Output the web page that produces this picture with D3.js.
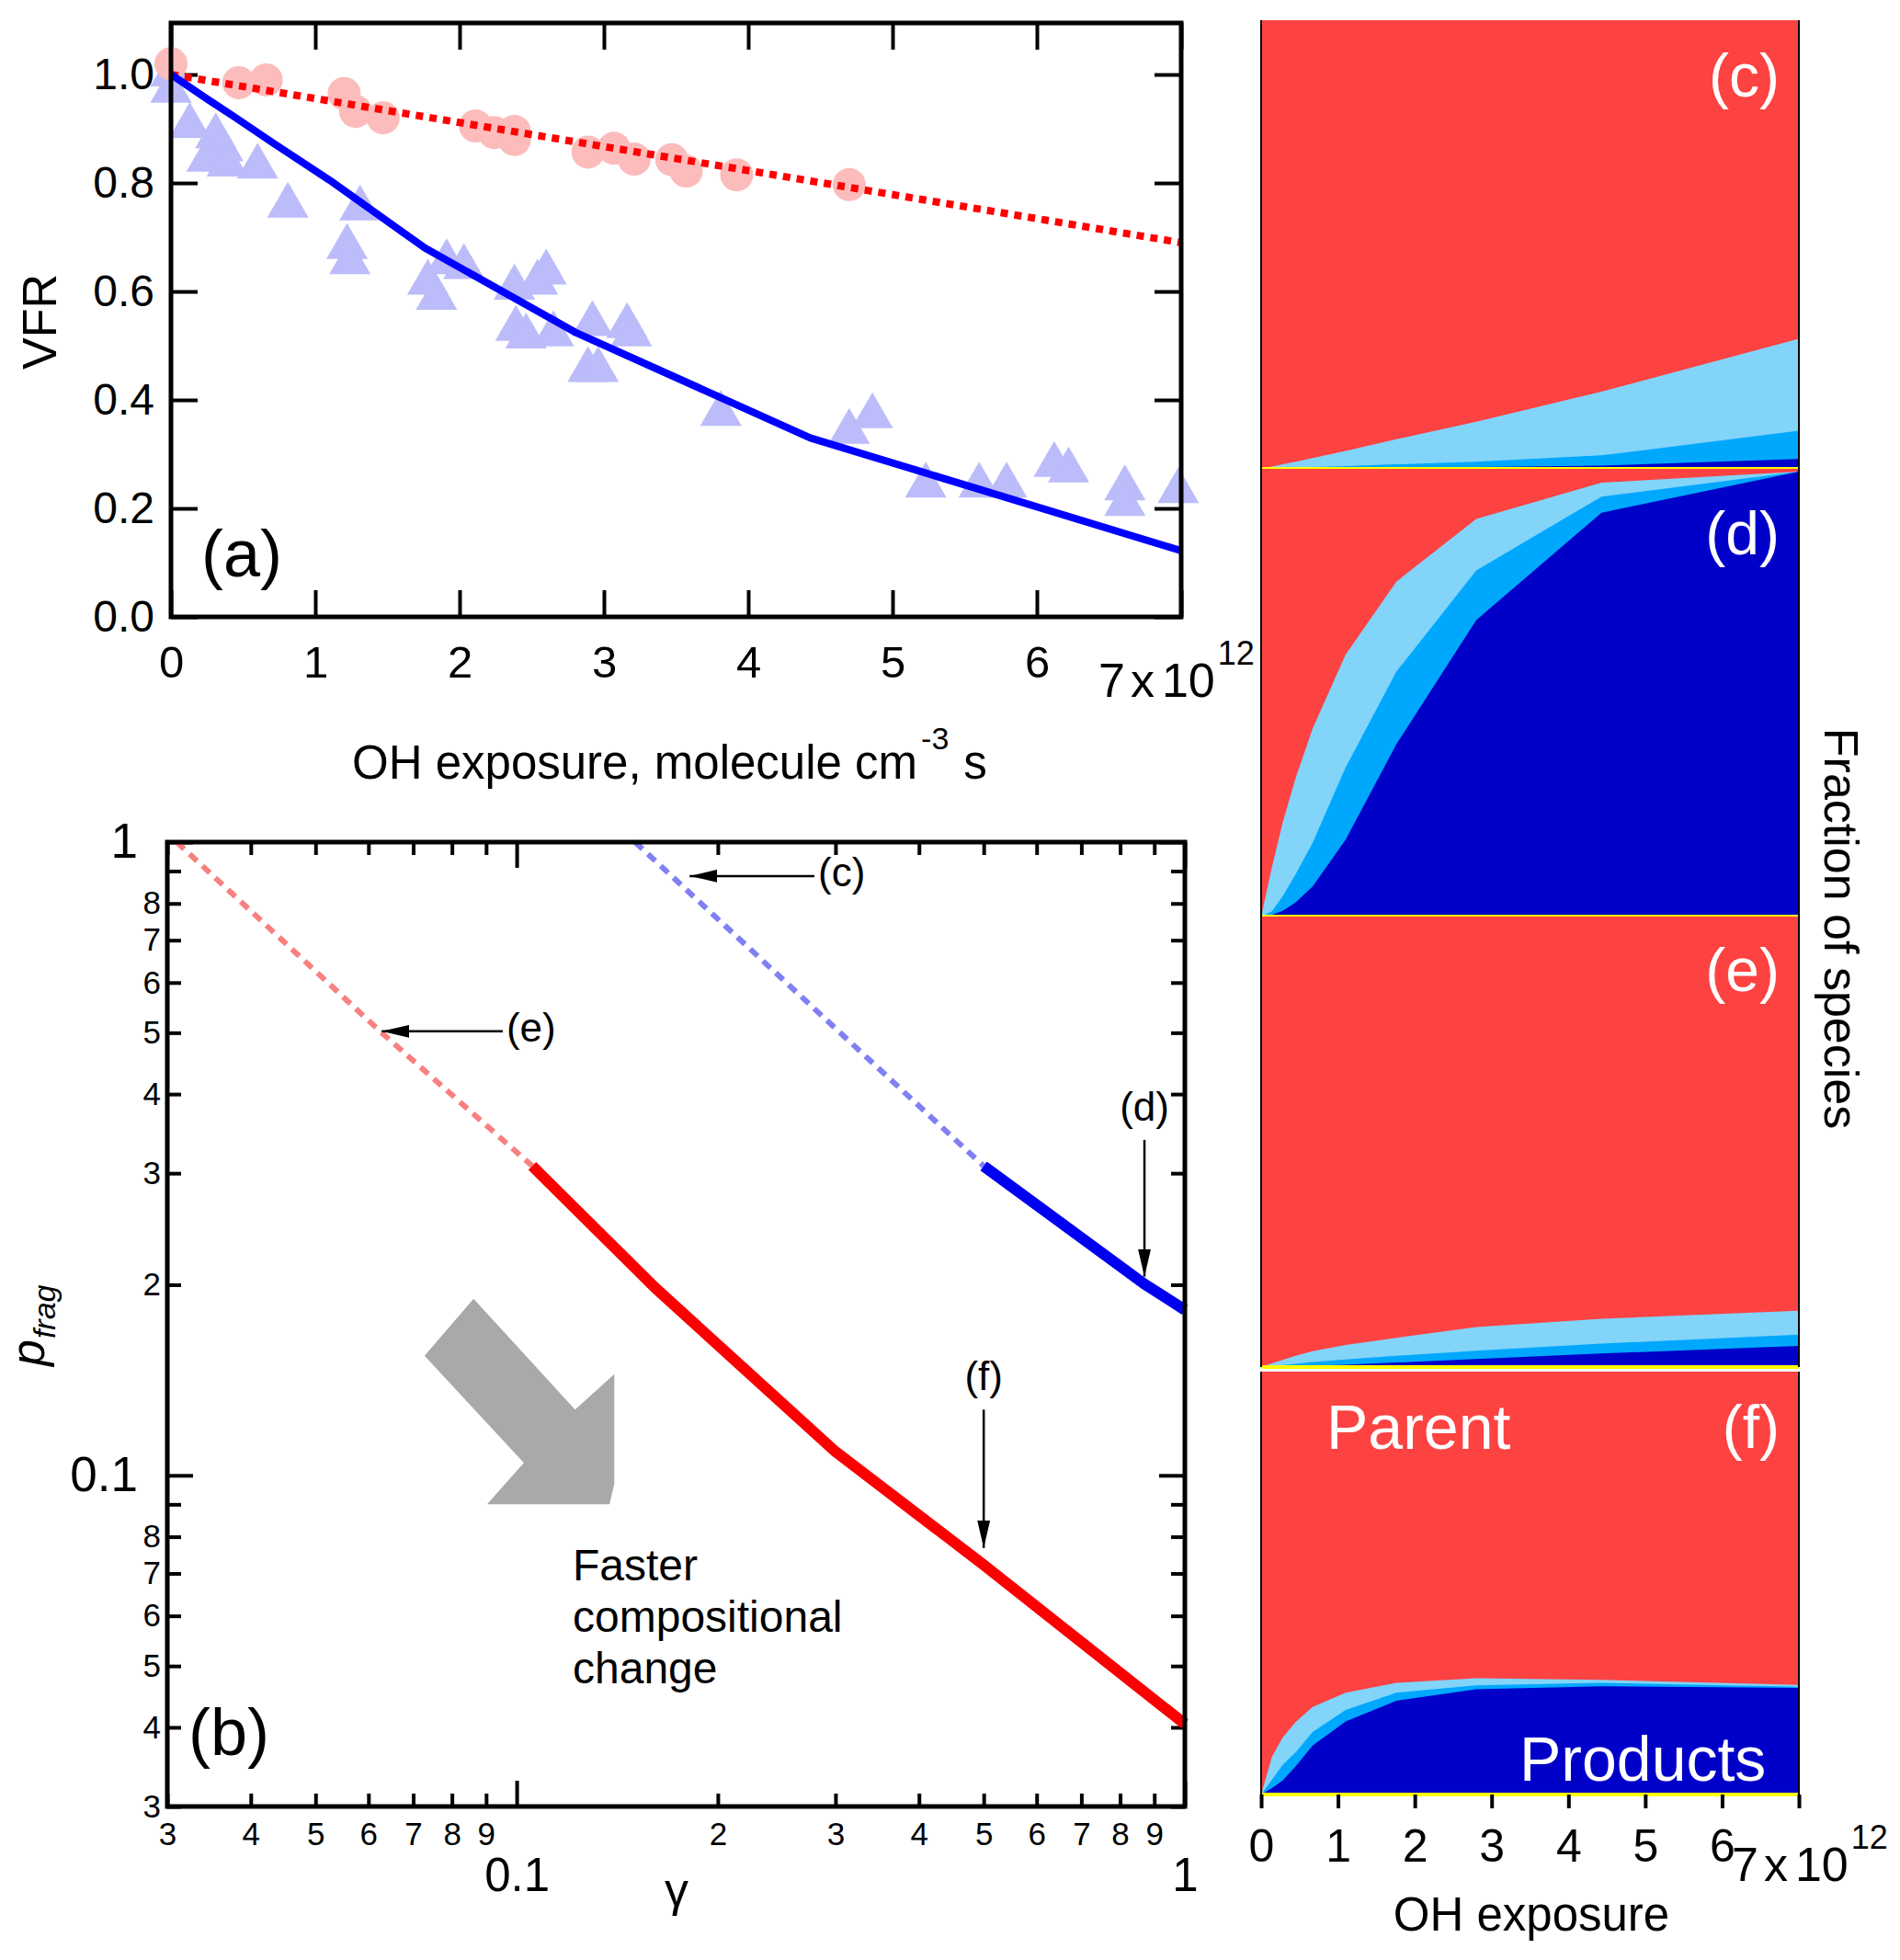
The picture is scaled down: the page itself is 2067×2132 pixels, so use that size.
<!DOCTYPE html>
<html>
<head>
<meta charset="utf-8">
<script src="https://cdn.jsdelivr.net/npm/d3@7"></script>
<style>
  body { margin: 0; background: #fff; }
  svg { display: block; }
</style>
</head>
<body>
<svg id="fig" width="2067" height="2132"></svg>
<script>
// ---------- panel (a): VFR vs OH exposure (x in 1e12 molecule cm-3 s)
const circX = [0.0, 0.47, 0.66, 1.2, 1.28, 1.47, 2.11, 2.24, 2.38, 2.38, 2.89, 3.07, 3.21, 3.47, 3.57, 3.92, 4.7];
const circY = [1.02, 0.985, 0.99, 0.965, 0.932, 0.92, 0.905, 0.893, 0.895, 0.88, 0.857, 0.864, 0.844, 0.843, 0.822, 0.815, 0.797];
const triX = [0.0, 0.0, 0.13, 0.31, 0.36, 0.25, 0.39, 0.6, 0.81, 1.31, 1.22, 1.24, 1.78, 1.84, 1.91, 2.03, 2.38, 2.39, 2.46,
  2.54, 2.6, 2.65, 2.92, 2.89, 2.96, 3.16, 3.19, 3.81, 4.7, 4.86, 5.23, 5.6, 5.79, 6.12, 6.22, 6.61, 6.61, 6.98];
const triY = [1.0, 0.97, 0.905, 0.886, 0.862, 0.843, 0.834, 0.83, 0.758, 0.753, 0.682, 0.654, 0.616, 0.588, 0.654, 0.645, 0.607, 0.531, 0.517,
  0.616, 0.635, 0.521, 0.54, 0.455, 0.455, 0.536, 0.521, 0.374, 0.341, 0.37, 0.242, 0.242, 0.242, 0.28, 0.27, 0.237, 0.208, 0.232];
const fitRedX = [0, 7];
const fitRedY = [1.0, 0.69];
const fitBlueX = [0, 0.25, 0.45, 0.7, 1.1, 1.76, 2.8, 4.43, 7];
const fitBlueY = [1.0, 0.955, 0.92, 0.875, 0.805, 0.68, 0.525, 0.33, 0.122];
const xTicksA = [0, 1, 2, 3, 4, 5, 6, 7];
const yTicksA = [0, 0.2, 0.4, 0.6, 0.8, 1.0];

// ---------- panel (b): pfrag vs gamma
const redDashG = [0.031, 0.0628, 0.1055];
const redDashP = [1.0, 0.5, 0.308];
const redSolidG = [0.1055, 0.161, 0.2985, 0.5, 1.0];
const redSolidP = [0.308, 0.198, 0.1095, 0.0722, 0.0405];
const blueDashG = [0.1504, 0.3, 0.4998];
const blueDashP = [1.0, 0.508, 0.308];
const blueSolidG = [0.4998, 0.87, 1.0];
const blueSolidP = [0.308, 0.2005, 0.1825];
const minorTicksB = [0.03, 0.04, 0.05, 0.06, 0.07, 0.08, 0.09, 0.2, 0.3, 0.4, 0.5, 0.6, 0.7, 0.8, 0.9];
const majorTicksB = [0.1, 1];
// arrows: [label, tailG, tailP, tipG, tipP]
const arrowNotes = [
  ["(c)", 0.279, 0.884, 0.1815, 0.884],
  ["(e)", 0.0953, 0.5025, 0.0628, 0.5025],
  ["(d)", 0.87, 0.3387, 0.87, 0.206],
  ["(f)", 0.5, 0.127, 0.5, 0.0768]
];
// big grey arrow outline, in (gamma, pfrag)
const greyArrowG = [0.0728, 0.0862, 0.1223, 0.14, 0.14, 0.1377, 0.0903, 0.1025];
const greyArrowP = [0.1545, 0.19, 0.127, 0.1445, 0.0971, 0.09, 0.09, 0.1046];

// ---------- panels (c)-(f): cumulative species fractions vs OH exposure
const expoGrid = [0, 0.14, 0.28, 0.45, 0.67, 1.1, 1.76, 2.8, 4.43, 7];
const cDark   = [0, 0, 0, 0.001, 0.001, 0.002, 0.003, 0.004, 0.007, 0.022];
const cMedium = [0, 0.001, 0.002, 0.003, 0.004, 0.006, 0.01, 0.016, 0.03, 0.085];
const cLight  = [0, 0.005, 0.01, 0.016, 0.024, 0.04, 0.066, 0.105, 0.172, 0.29];
const dDark   = [0, 0.004, 0.013, 0.032, 0.067, 0.172, 0.385, 0.662, 0.902, 0.994];
const dMedium = [0, 0.012, 0.045, 0.095, 0.165, 0.333, 0.547, 0.773, 0.938, 0.994];
const dLight  = [0, 0.11, 0.21, 0.31, 0.42, 0.585, 0.748, 0.888, 0.969, 0.994];
const eDark   = [0, 0.001, 0.001, 0.002, 0.003, 0.005, 0.01, 0.018, 0.03, 0.047];
const eMedium = [0, 0.002, 0.004, 0.007, 0.011, 0.017, 0.025, 0.036, 0.052, 0.072];
const eLight  = [0, 0.008, 0.016, 0.025, 0.035, 0.049, 0.065, 0.089, 0.107, 0.125];
const fDark   = [0, 0.015, 0.033, 0.067, 0.116, 0.173, 0.222, 0.249, 0.256, 0.252];
const fMedium = [0, 0.035, 0.07, 0.1, 0.148, 0.2, 0.241, 0.258, 0.264, 0.255];
const fLight  = [0, 0.089, 0.135, 0.172, 0.207, 0.241, 0.264, 0.275, 0.271, 0.259];
const xTicksR = [0, 1, 2, 3, 4, 5, 6, 7];

const FONT = '"Liberation Sans", Arial, Helvetica, sans-serif';
const svg = d3.select("#fig");

function cleanAxis(g, fs, sw) {
  g.attr("font-family", FONT).attr("font-size", fs);
  g.select(".domain").remove();
  g.selectAll(".tick line").attr("stroke", "#000").attr("stroke-width", sw);
  g.selectAll(".tick text").attr("fill", "#000");
}

/////////////////////////// panel (a)
const xA = d3.scaleLinear().domain([0, 7]).range([186, 1285]);
const yA = d3.scaleLinear().domain([0, 1.095]).range([671, 25]);

svg.append("g").attr("transform", `translate(0,${yA.range()[0]})`)
  .call(d3.axisBottom(xA).tickValues(xTicksA).tickFormat(d => d < 7 ? d : "").tickSize(-29).tickPadding(31))
  .call(g => cleanAxis(g, 49, 4));
svg.append("g").attr("transform", `translate(0,${yA.range()[1]})`)
  .call(d3.axisTop(xA).tickValues(xTicksA).tickFormat("").tickSize(-29))
  .call(g => cleanAxis(g, 49, 4));
svg.append("g").attr("transform", `translate(${xA.range()[0]},0)`)
  .call(d3.axisLeft(yA).tickValues(yTicksA).tickFormat(d3.format(".1f")).tickSize(-29).tickPadding(18))
  .call(g => cleanAxis(g, 48, 4));
svg.append("g").attr("transform", `translate(${xA.range()[1]},0)`)
  .call(d3.axisRight(yA).tickValues(yTicksA).tickFormat("").tickSize(-29))
  .call(g => cleanAxis(g, 48, 4));

const lineA = d3.line().x(d => xA(d[0])).y(d => yA(d[1]));

// markers
svg.append("g").selectAll("path.tri")
  .data(d3.zip(triX, triY))
  .join("path")
  .attr("class", "tri")
  .attr("transform", d => `translate(${xA(d[0])},${yA(d[1])})`)
  .attr("d", d3.symbol().type(d3.symbolTriangle).size(880))
  .attr("fill", "#bcbcfa");
svg.append("g").selectAll("circle")
  .data(d3.zip(circX, circY))
  .join("circle")
  .attr("cx", d => xA(d[0]))
  .attr("cy", d => yA(d[1]))
  .attr("r", 18)
  .attr("fill", "#fcbcbc");

svg.append("path")
  .attr("d", lineA(d3.zip(fitRedX, fitRedY)))
  .attr("fill", "none").attr("stroke", "#ff0000").attr("stroke-width", 8)
  .attr("stroke-dasharray", "8 7");
svg.append("path")
  .attr("d", lineA(d3.zip(fitBlueX, fitBlueY)))
  .attr("fill", "none").attr("stroke", "#0000ff").attr("stroke-width", 8)
  .attr("stroke-linejoin", "round");

svg.append("rect")
  .attr("x", xA.range()[0]).attr("y", yA.range()[1])
  .attr("width", xA.range()[1] - xA.range()[0])
  .attr("height", yA.range()[0] - yA.range()[1])
  .attr("fill", "none").attr("stroke", "#000").attr("stroke-width", 5);

svg.append("text").attr("x", 219).attr("y", 627)
  .attr("font-family", FONT).attr("font-size", 72).text("(a)");
svg.append("text")
  .attr("transform", "translate(61,350) rotate(-90)")
  .attr("text-anchor", "middle")
  .attr("font-family", FONT).attr("font-size", 52).text("VFR");

// x-label with superscript
const xlabA = svg.append("text").attr("x", 383).attr("y", 847)
  .attr("font-family", FONT).attr("font-size", 51);
xlabA.append("tspan").text("OH exposure, molecule cm");
xlabA.append("tspan").attr("dy", -32).attr("dx", 4).attr("font-size", 34).text("-3");
xlabA.append("tspan").attr("dy", 32).attr("dx", 16).text("s");

// 7 x 10^12 label
function sciLabel(x, y) {
  const t = svg.append("text").attr("x", x).attr("y", y)
    .attr("font-family", FONT).attr("font-size", 52);
  t.append("tspan").text("7");
  t.append("tspan").attr("dx", 6).text("x");
  t.append("tspan").attr("dx", 8).text("10");
  t.append("tspan").attr("dy", -35).attr("dx", 3).attr("font-size", 36).text("12");
}
sciLabel(1195, 758);

/////////////////////////// panel (b)
const xB = d3.scaleLog().domain([0.03, 1]).range([182, 1289]);
const yB = d3.scaleLog().domain([0.03, 1]).range([1965, 916]);

const minorLab = d => String(Math.round(d < 0.1 ? d * 100 : d * 10));
const yMinorLab = d => (d === 0.9 || d === 0.09) ? "" : minorLab(d);

// bottom
svg.append("g").attr("transform", `translate(0,${yB.range()[0]})`)
  .call(d3.axisBottom(xB).tickValues(minorTicksB).tickFormat(minorLab).tickSize(-14).tickPadding(17))
  .call(g => cleanAxis(g, 35, 4));
svg.append("g").attr("transform", `translate(0,${yB.range()[0]})`)
  .call(d3.axisBottom(xB).tickValues(majorTicksB).tickFormat(d => d === 1 ? "1" : "0.1").tickSize(-28).tickPadding(56))
  .call(g => cleanAxis(g, 51, 4));
// top
svg.append("g").attr("transform", `translate(0,${yB.range()[1]})`)
  .call(d3.axisTop(xB).tickValues(minorTicksB).tickFormat("").tickSize(-14))
  .call(g => cleanAxis(g, 35, 4));
svg.append("g").attr("transform", `translate(0,${yB.range()[1]})`)
  .call(d3.axisTop(xB).tickValues(majorTicksB).tickFormat("").tickSize(-28))
  .call(g => cleanAxis(g, 35, 4));
// left
svg.append("g").attr("transform", `translate(${xB.range()[0]},0)`)
  .call(d3.axisLeft(yB).tickValues(minorTicksB).tickFormat(yMinorLab).tickSize(-15).tickPadding(7))
  .call(g => cleanAxis(g, 35, 4));
svg.append("g").attr("transform", `translate(${xB.range()[0]},0)`)
  .call(d3.axisLeft(yB).tickValues(majorTicksB).tickFormat(d => d === 1 ? "1" : "0.1").tickSize(-28).tickPadding(32))
  .call(g => cleanAxis(g, 53, 4));
// right
svg.append("g").attr("transform", `translate(${xB.range()[1]},0)`)
  .call(d3.axisRight(yB).tickValues(minorTicksB).tickFormat("").tickSize(-15))
  .call(g => cleanAxis(g, 35, 4));
svg.append("g").attr("transform", `translate(${xB.range()[1]},0)`)
  .call(d3.axisRight(yB).tickValues(majorTicksB).tickFormat("").tickSize(-28))
  .call(g => cleanAxis(g, 35, 4));

const lineB = d3.line().x(d => xB(d[0])).y(d => yB(d[1]));

svg.append("path").attr("d", lineB(d3.zip(redDashG, redDashP)))
  .attr("fill", "none").attr("stroke", "#f88080").attr("stroke-width", 6).attr("stroke-dasharray", "11 8");
svg.append("path").attr("d", lineB(d3.zip(blueDashG, blueDashP)))
  .attr("fill", "none").attr("stroke", "#8080f2").attr("stroke-width", 6).attr("stroke-dasharray", "11 8");
svg.append("path").attr("d", lineB(d3.zip(redSolidG, redSolidP)))
  .attr("fill", "none").attr("stroke", "#fa0000").attr("stroke-width", 12).attr("stroke-linejoin", "round");
svg.append("path").attr("d", lineB(d3.zip(blueSolidG, blueSolidP)))
  .attr("fill", "none").attr("stroke", "#0000f0").attr("stroke-width", 12).attr("stroke-linejoin", "round");

// grey arrow
svg.append("path")
  .attr("d", lineB(d3.zip(greyArrowG, greyArrowP)) + "Z")
  .attr("fill", "#a9a9a9");

// annotation arrows
svg.append("defs").append("marker")
  .attr("id", "head")
  .attr("viewBox", "0 0 30 14")
  .attr("refX", 30).attr("refY", 7)
  .attr("markerWidth", 30).attr("markerHeight", 14)
  .attr("markerUnits", "userSpaceOnUse")
  .attr("orient", "auto")
  .append("path").attr("d", "M0,0L30,7L0,14Z").attr("fill", "#000");

arrowNotes.forEach(([lab, tg, tp, hg, hp]) => {
  const x1 = xB(tg), y1 = yB(tp), x2 = xB(hg), y2 = yB(hp);
  svg.append("line")
    .attr("x1", x1).attr("y1", y1).attr("x2", x2).attr("y2", y2)
    .attr("stroke", "#000").attr("stroke-width", 2.5)
    .attr("marker-end", "url(#head)");
  const horiz = Math.abs(y1 - y2) < 1;
  svg.append("text")
    .attr("x", horiz ? x1 + 4 : x1)
    .attr("y", horiz ? y1 + 11 : y1 - 21)
    .attr("text-anchor", horiz ? "start" : "middle")
    .attr("font-family", FONT).attr("font-size", 44)
    .text(lab);
});

svg.append("rect")
  .attr("x", xB.range()[0]).attr("y", yB.range()[1])
  .attr("width", xB.range()[1] - xB.range()[0])
  .attr("height", yB.range()[0] - yB.range()[1])
  .attr("fill", "none").attr("stroke", "#000").attr("stroke-width", 5);

const faster = svg.append("text").attr("font-family", FONT).attr("font-size", 48);
["Faster", "compositional", "change"].forEach((s, i) => {
  faster.append("tspan").attr("x", 623).attr("y", 1719 + i * 56).text(s);
});
svg.append("text").attr("x", 205).attr("y", 1909)
  .attr("font-family", FONT).attr("font-size", 72).text("(b)");
svg.append("text").attr("x", 736).attr("y", 2073)
  .attr("text-anchor", "middle")
  .attr("font-family", FONT).attr("font-size", 52).text("γ");
const pl = svg.append("text")
  .attr("transform", "translate(48,1486) rotate(-90)")
  .attr("font-family", FONT).attr("font-style", "italic").attr("font-size", 52);
pl.append("tspan").text("p");
pl.append("tspan").attr("dy", 12).attr("dx", 1).attr("font-size", 34).text("frag");

/////////////////////////// panels (c)-(f)
const xR = d3.scaleLinear().domain([0, 7]).range([1372, 1957]);
const panels = [
  { lab: "(c)", top: 22,   bottom: 510,  labY: 105,  dark: cDark, medium: cMedium, light: cLight },
  { lab: "(d)", top: 510,  bottom: 997,  labY: 603,  dark: dDark, medium: dMedium, light: dLight },
  { lab: "(e)", top: 997,  bottom: 1487, labY: 1078, dark: eDark, medium: eMedium, light: eLight },
  { lab: "(f)", top: 1492, bottom: 1952, labY: 1575, dark: fDark, medium: fMedium, light: fLight }
];
const colParent = "#fd4242", colLight = "#82d4f9", colMedium = "#00a8fd", colDark = "#0000c8";

panels.forEach(p => {
  const y = d3.scaleLinear().domain([0, 1]).range([p.bottom, p.top]);
  const area = d3.area()
    .x((d, i) => xR(expoGrid[i]))
    .y0(y(0))
    .y1(d => y(d));
  svg.append("rect")
    .attr("x", xR(0)).attr("y", y(1))
    .attr("width", xR(7) - xR(0)).attr("height", y(0) - y(1))
    .attr("fill", colParent);
  svg.append("path").attr("d", area(p.light)).attr("fill", colLight);
  svg.append("path").attr("d", area(p.medium)).attr("fill", colMedium);
  svg.append("path").attr("d", area(p.dark)).attr("fill", colDark);
  svg.append("line")
    .attr("x1", xR(0)).attr("x2", xR(7))
    .attr("y1", y(0)).attr("y2", y(0))
    .attr("stroke", "#ffff00").attr("stroke-width", 4);
  [0, 7].forEach(v => {
    svg.append("line")
      .attr("x1", xR(v)).attr("x2", xR(v))
      .attr("y1", y(1)).attr("y2", y(0))
      .attr("stroke", "#000").attr("stroke-width", 2);
  });
  svg.append("text").attr("x", 1936).attr("y", p.labY)
    .attr("text-anchor", "end").attr("fill", "#fff")
    .attr("font-family", FONT).attr("font-size", 66).text(p.lab);
});

svg.append("text").attr("x", 1443).attr("y", 1576).attr("fill", "#fff")
  .attr("font-family", FONT).attr("font-size", 68).text("Parent");
svg.append("text").attr("x", 1653).attr("y", 1937).attr("fill", "#fff")
  .attr("font-family", FONT).attr("font-size", 68).text("Products");

svg.append("g").attr("transform", `translate(0,${panels[3].bottom})`)
  .call(d3.axisBottom(xR).tickValues(xTicksR).tickFormat(d => d < 7 ? d : "").tickSize(15).tickPadding(22))
  .call(g => cleanAxis(g, 50, 4));
sciLabel(1884, 2046);
svg.append("text").attr("x", 1666).attr("y", 2100)
  .attr("text-anchor", "middle")
  .attr("font-family", FONT).attr("font-size", 51).text("OH exposure");
svg.append("text")
  .attr("transform", "translate(1985,1010) rotate(90)")
  .attr("text-anchor", "middle")
  .attr("font-family", FONT).attr("font-size", 52).text("Fraction of species");
</script>
</body>
</html>
